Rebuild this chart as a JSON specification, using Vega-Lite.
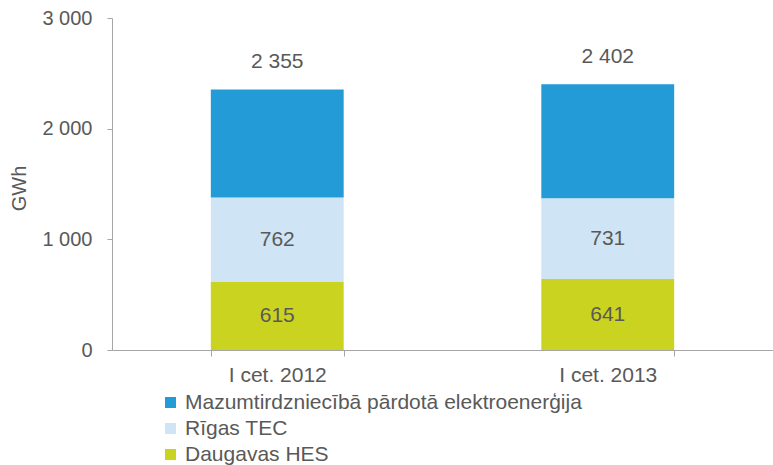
{
  "$schema": "https://vega.github.io/schema/vega-lite/v6.json",
  "width": 661,
  "height": 332,
  "autosize": "none",
  "padding": {"left": 112, "top": 18, "right": 0, "bottom": 115},
  "config": {
    "locale": {"number": {"decimal": ",", "thousands": "\u00a0", "grouping": [3], "currency": ["", ""]}},
    "view": {"stroke": null},
    "font": "Liberation Sans"
  },
  "data": {
    "values": [
      {"period": "I cet. 2012", "series": "Daugavas HES", "ord": 1, "value": 615},
      {"period": "I cet. 2012", "series": "Rīgas TEC", "ord": 2, "value": 762},
      {"period": "I cet. 2012", "series": "Mazumtirdzniecībā pārdotā elektroenerģija", "ord": 3, "value": 978},
      {"period": "I cet. 2013", "series": "Daugavas HES", "ord": 1, "value": 641},
      {"period": "I cet. 2013", "series": "Rīgas TEC", "ord": 2, "value": 731},
      {"period": "I cet. 2013", "series": "Mazumtirdzniecībā pārdotā elektroenerģija", "ord": 3, "value": 1030}
    ]
  },
  "encoding": {
    "x": {
      "field": "period", "type": "nominal",
      "scale": {"paddingInner": 0.598, "paddingOuter": 0.299},
      "axis": {
        "title": null, "labelAngle": 0, "labelFontSize": 21, "labelColor": "#595959",
        "domainColor": "#a6a6a6", "tickColor": "#a6a6a6", "tickSize": 6, "tickBand": "extent",
        "labelPadding": 8
      }
    }
  },
  "layer": [
    {
      "transform": [
        {"stack": "value", "groupby": ["period"], "sort": [{"field": "ord", "order": "ascending"}], "as": ["v0", "v1"]}
      ],
      "mark": {"type": "bar"},
      "encoding": {
        "y": {
          "field": "v0", "type": "quantitative",
          "scale": {"domain": [0, 3000], "nice": false},
          "axis": {
            "title": "GWh", "values": [0, 1000, 2000, 3000], "format": ",d",
            "labelFontSize": 20, "labelColor": "#595959", "labelPadding": 15,
            "domainColor": "#a6a6a6", "tickColor": "#a6a6a6", "tickSize": 5, "grid": false,
            "titleFontSize": 20, "titleFontWeight": "normal", "titleColor": "#595959",
            "titleX": -93, "titleY": 170, "titleAngle": -90, "titleBaseline": "middle", "titleAlign": "center"
          }
        },
        "y2": {"field": "v1"},
        "color": {
          "field": "series", "type": "nominal",
          "scale": {
            "domain": ["Mazumtirdzniecībā pārdotā elektroenerģija", "Rīgas TEC", "Daugavas HES"],
            "range": ["#239bd6", "#cfe4f5", "#cbd321"]
          },
          "legend": {
            "title": null, "orient": "none", "legendX": 48, "legendY": 374,
            "symbolType": "square", "symbolSize": 121, "symbolStrokeWidth": 0,
            "labelFontSize": 21, "labelColor": "#595959", "labelOffset": 4, "rowPadding": 4,
            "labelLimit": 0
          }
        }
      }
    },
    {
      "transform": [
        {"stack": "value", "groupby": ["period"], "sort": [{"field": "ord", "order": "ascending"}], "as": ["v0", "v1"]},
        {"filter": "datum.ord < 3"},
        {"fold": ["v0", "v1"], "as": ["edge", "pos"]},
        {"aggregate": [{"op": "mean", "field": "pos", "as": "mid"}], "groupby": ["period", "series", "value"]}
      ],
      "mark": {"type": "text", "fontSize": 21, "color": "#595959", "baseline": "middle"},
      "encoding": {
        "y": {"field": "mid", "type": "quantitative"},
        "text": {"field": "value", "type": "quantitative", "format": ",d"}
      }
    },
    {
      "mark": {"type": "text", "fontSize": 21, "color": "#595959", "baseline": "alphabetic", "dy": -21},
      "encoding": {
        "y": {"aggregate": "sum", "field": "value", "type": "quantitative"},
        "text": {"aggregate": "sum", "field": "value", "type": "quantitative", "format": ",d"}
      }
    }
  ]
}
